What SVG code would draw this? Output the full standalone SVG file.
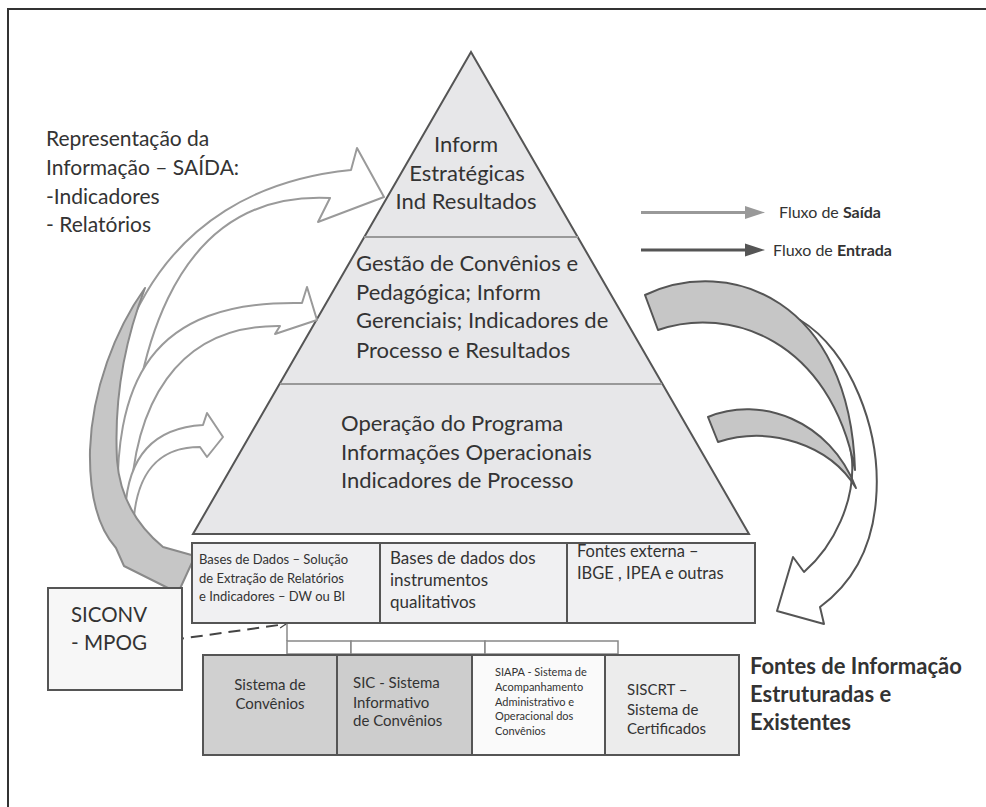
<svg xmlns="http://www.w3.org/2000/svg" width="986" height="807" viewBox="0 0 986 807">
<defs>
<style>
.t{font-family:Lato,"Liberation Sans",sans-serif;fill:#333}
.b{font-weight:bold}
.box{stroke:#555;stroke-width:2}
.wa{fill:#fff;stroke:#9a9a9a;stroke-width:2;stroke-linejoin:round}
.ga{fill:#c6c6c6;stroke:#8a8a8a;stroke-width:2;stroke-linejoin:round}
.gr{fill:#c6c6c6;stroke:#555;stroke-width:2;stroke-linejoin:round}
.wr{fill:#fff;stroke:#555;stroke-width:2;stroke-linejoin:round}
.hub{fill:#fff;stroke:#888;stroke-width:1.5}
</style>
<marker id="open" viewBox="0 0 10 10" refX="9" refY="5" markerWidth="8" markerHeight="8" orient="auto" markerUnits="userSpaceOnUse">
<path d="M1,1 L9,5 L1,9" fill="none" stroke="#444" stroke-width="1.5"/>
</marker>
</defs>
<rect width="986" height="807" fill="#fff"/>
<path d="M8,807 L8,9 L986,9" fill="none" stroke="#333" stroke-width="2"/>

<g id="pyramid">
<polygon points="471,52 193,534 749,534" fill="#e7e7e9" stroke="#555" stroke-width="2"/>
<line x1="364" y1="237" x2="578" y2="237" stroke="#999" stroke-width="2"/>
<line x1="280" y1="384" x2="662" y2="384" stroke="#999" stroke-width="2"/>
</g>
<g id="tier1" class="t" font-size="22" text-anchor="middle">
<text x="466" y="152">Inform</text>
<text x="467" y="181">Estratégicas</text>
<text x="466" y="209">Ind Resultados</text>
</g>
<g id="tier2" class="t" font-size="22">
<text x="356" y="271">Gestão de Convênios e</text>
<text x="356" y="300">Pedagógica; Inform</text>
<text x="356" y="328">Gerenciais; Indicadores de</text>
<text x="356" y="358">Processo e Resultados</text>
</g>
<g id="tier3" class="t" font-size="22">
<text x="341" y="431">Operação do Programa</text>
<text x="341" y="460">Informações Operacionais</text>
<text x="341" y="488">Indicadores de Processo</text>
</g>

<g id="label-saida" class="t" font-size="21">
<text x="46" y="146">Representação da</text>
<text x="46" y="175">Informação – SAÍDA:</text>
<text x="46" y="204">-Indicadores</text>
<text x="46" y="232">- Relatórios</text>
</g>

<g id="connectors">
<path class="wa" d="M106,520 C88,360 150,190 351,170 L357,148 L384,197 L318,222 L330,198 C170,190 125,360 128,540 Z"/>
<path class="wa" d="M118,520 C112,380 150,300 302,303 L307,287 L317,320 L275,334 L280,326 C180,325 128,400 130,530 Z"/>
<path class="wa" d="M125,520 C125,460 150,428 203,425 L207,413 L223,437 L207,457 L200,447 C160,447 135,470 133,530 Z"/>
<path class="ga" d="M145,288 C115,330 92,390 90,450 C89,500 100,530 116,548 L124,566 L178,593 L195,556 L163,547 C140,528 120,500 117,460 C114,400 125,340 145,288 Z"/>

<path class="wr" d="M800,320 C850,350 882,430 876,500 C872,550 850,585 820,607 L824,624 L777,611 L793,557 L804,572 C835,545 855,500 852,460 C845,400 820,360 790,340 Z"/>
<path class="gr" d="M645,295 C730,255 850,300 855,470 C830,340 730,305 658,330 Z"/>
<path class="gr" d="M708,417 C760,395 830,420 856,488 C830,445 770,425 718,442 Z"/>

<line x1="172" y1="640" x2="286" y2="624" stroke="#444" stroke-width="2" stroke-dasharray="12,7" marker-end="url(#open)"/>
<path d="M287,624 L287,641" stroke="#888" stroke-width="1.5" fill="none"/>

<line x1="641" y1="212.5" x2="747" y2="212.5" stroke="#999" stroke-width="3"/>
<polygon points="745,206 765,212.5 745,219" fill="#999"/>
<line x1="641" y1="250" x2="747" y2="250" stroke="#555" stroke-width="3"/>
<polygon points="745,243.5 765,250 745,256.5" fill="#555"/>
</g>

<g id="legend" class="t" font-size="16">
<text x="779" y="218">Fluxo de <tspan class="b">Saída</tspan></text>
<text x="773" y="256">Fluxo de <tspan class="b">Entrada</tspan></text>
</g>

<g id="bases-dados">
<rect class="box" x="192" y="543" width="188" height="80" fill="#f0f0f2"/>
<g class="t" font-size="13">
<text x="199" y="564">Bases de Dados – Solução</text>
<text x="199" y="583">de Extração de Relatórios</text>
<text x="199" y="601">e Indicadores – DW ou BI</text>
</g>
</g>
<g id="bases-qualitativos">
<rect class="box" x="380" y="543" width="187" height="80" fill="#f0f0f2"/>
<g class="t" font-size="17">
<text x="390" y="564">Bases de dados dos</text>
<text x="390" y="586">instrumentos</text>
<text x="390" y="608">qualitativos</text>
</g>
</g>
<g id="fontes-externa">
<rect class="box" x="567" y="543" width="188" height="80" fill="#f0f0f2"/>
<g class="t" font-size="16.5">
<text x="577" y="557">Fontes externa –</text>
<text x="577" y="579">IBGE , IPEA e outras</text>
</g>
</g>

<g id="hub">
<rect class="hub" x="287" y="641" width="64" height="13"/>
<rect class="hub" x="351" y="641" width="134" height="13"/>
<rect class="hub" x="485" y="641" width="133" height="13"/>
</g>

<g id="siconv">
<rect class="box" x="48" y="588" width="134" height="102" fill="#f7f7f7"/>
<g class="t" font-size="21">
<text x="71" y="622" textLength="76" lengthAdjust="spacingAndGlyphs">SICONV</text>
<text x="71" y="650" textLength="76" lengthAdjust="spacingAndGlyphs">- MPOG</text>
</g>
</g>

<g id="sistema-convenios">
<rect class="box" x="203" y="655" width="134" height="100" fill="#d0d0d0"/>
<g class="t" font-size="15" text-anchor="middle">
<text x="270" y="690">Sistema de</text>
<text x="270" y="709">Convênios</text>
</g>
</g>
<g id="sic">
<rect class="box" x="337" y="655" width="135" height="100" fill="#cdcdcd"/>
<g class="t" font-size="15">
<text x="353" y="688">SIC - Sistema</text>
<text x="353" y="708">Informativo</text>
<text x="353" y="726">de Convênios</text>
</g>
</g>
<g id="siapa">
<rect class="box" x="472" y="655" width="133" height="100" fill="#fafafa"/>
<g class="t" font-size="11">
<text x="495" y="676">SIAPA - Sistema de</text>
<text x="495" y="691">Acompanhamento</text>
<text x="495" y="706">Administrativo e</text>
<text x="495" y="720">Operacional dos</text>
<text x="495" y="735">Convênios</text>
</g>
</g>
<g id="siscrt">
<rect class="box" x="605" y="655" width="134" height="100" fill="#ececec"/>
<g class="t" font-size="15">
<text x="627" y="695">SISCRT –</text>
<text x="627" y="715">Sistema de</text>
<text x="627" y="734">Certificados</text>
</g>
</g>

<g id="label-fontes" class="t b" font-size="22">
<text x="750" y="674">Fontes de Informação</text>
<text x="750" y="702">Estruturadas e</text>
<text x="750" y="730">Existentes</text>
</g>
</svg>
